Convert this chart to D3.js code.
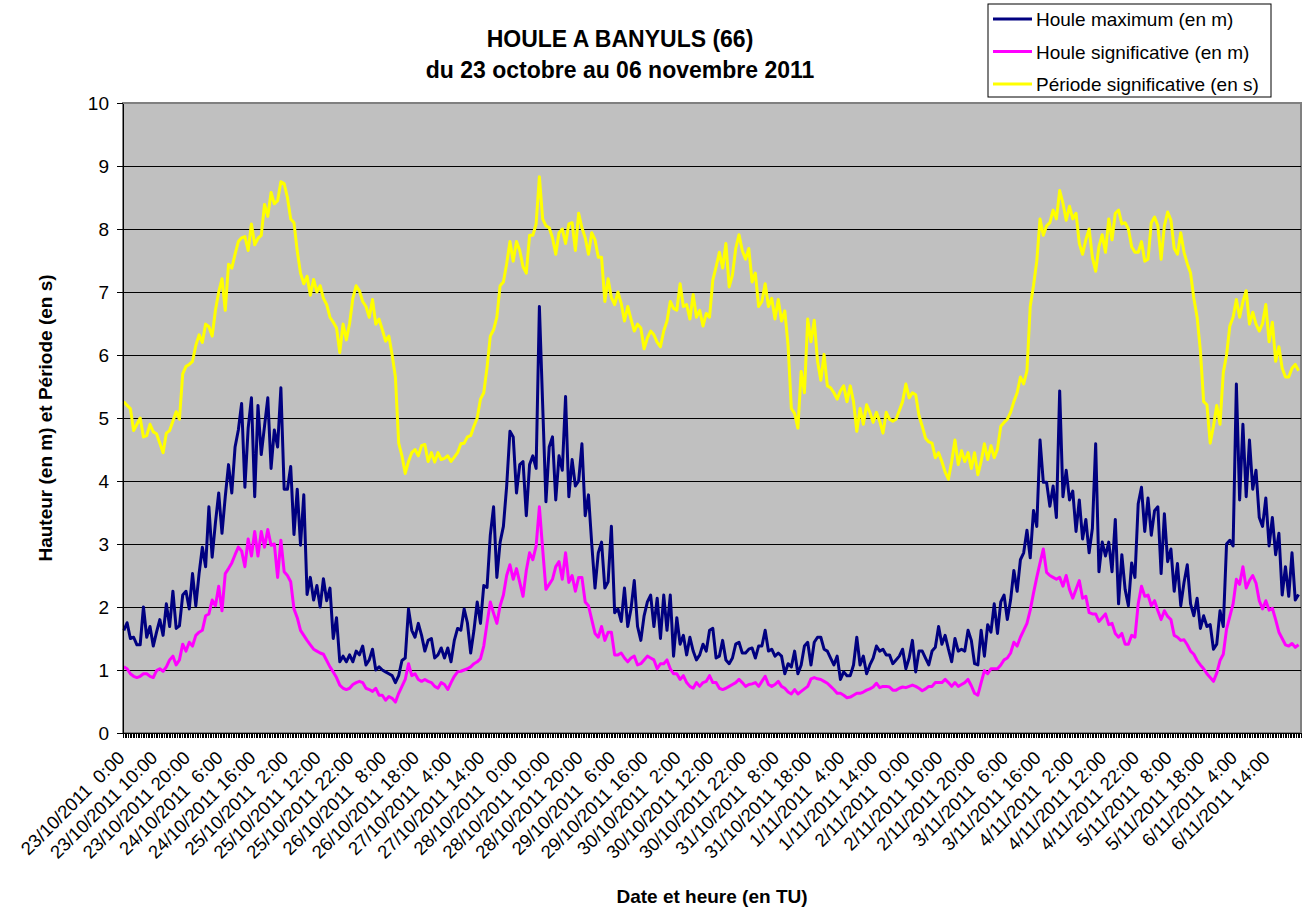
<!DOCTYPE html>
<html>
<head>
<meta charset="utf-8">
<title>Houle a Banyuls</title>
<script src="https://cdn.jsdelivr.net/npm/d3@7"></script>
<style>
  body { margin: 0; background: #fff; }
  svg { display: block; font-family: "Liberation Sans", Arial, sans-serif; }
  .axis path, .axis line { stroke: #000; shape-rendering: crispEdges; }
  .axis text { font-size: 19px; fill: #000; }
  .grid line { stroke: #000; shape-rendering: crispEdges; }
  .grid path { display: none; }
  .serie { fill: none; stroke-width: 3; stroke-linejoin: round; }
  .xlabel { font-size: 18.5px; white-space: pre; }
  .title { font-size: 23px; font-weight: bold; }
  .atitle { font-size: 19px; font-weight: bold; }
  .legend text { font-size: 19px; }
</style>
</head>
<body>
<svg id="chart" width="1303" height="912"></svg>
<script>
'use strict';

// hourly readings from 23/10/2011 0:00 to 6/11/2011 23:00 (index = hour)
let houleMax = [
  1.63,1.75,1.5,1.52,1.4,1.4,2.0,1.52,1.69,1.38,
  1.6,1.8,1.55,2.05,1.69,2.25,1.66,1.7,2.19,2.25,
  1.97,2.53,2.02,2.53,2.95,2.64,3.59,2.79,3.34,3.81,
  3.17,3.75,4.26,3.81,4.54,4.81,5.23,3.9,4.84,5.32,
  3.75,5.2,4.42,4.87,5.32,4.2,4.81,4.54,5.48,3.87,
  3.87,4.23,3.15,3.87,2.98,3.78,2.2,2.47,2.11,2.34,
  2.0,2.45,2.1,2.3,1.5,1.83,1.13,1.22,1.13,1.24,
  1.13,1.3,1.24,1.38,1.08,1.16,1.33,1.0,1.05,1.0,
  0.97,0.94,0.91,0.8,0.91,1.15,1.19,1.97,1.63,1.52,
  1.74,1.55,1.3,1.47,1.5,1.19,1.24,1.35,1.19,1.35,
  1.13,1.47,1.66,1.63,1.97,1.75,1.27,1.63,2.08,1.74,
  2.34,2.31,3.14,3.59,2.47,3.03,3.28,3.92,4.79,4.7,
  3.81,4.26,4.31,3.45,4.26,4.4,4.2,6.77,5.21,3.67,
  4.54,4.7,3.7,4.4,4.17,5.34,3.75,4.34,3.92,4.0,
  4.59,3.45,3.78,3.0,2.3,2.86,3.03,2.3,2.4,3.28,
  1.91,1.97,1.77,2.3,1.69,1.97,2.42,1.69,1.47,1.86,
  2.08,2.19,1.69,2.14,1.5,2.19,1.63,2.19,1.22,1.83,
  1.41,1.55,1.24,1.52,1.3,1.16,1.24,1.41,1.3,1.63,
  1.66,1.19,1.22,1.47,1.16,1.1,1.19,1.41,1.44,1.27,
  1.27,1.33,1.35,1.19,1.38,1.38,1.63,1.3,1.33,1.22,
  1.27,1.22,0.94,1.1,1.05,1.3,0.94,1.08,1.38,1.44,
  1.08,1.44,1.52,1.52,1.33,1.3,1.19,1.08,1.22,0.85,
  0.97,0.91,0.91,1.08,1.52,1.08,1.22,0.94,1.08,1.19,
  1.38,1.3,1.33,1.24,1.24,1.1,1.16,1.22,1.33,1.02,
  1.19,1.47,0.97,1.3,1.3,1.19,1.08,1.3,1.36,1.69,
  1.41,1.55,1.33,1.13,1.5,1.3,1.33,1.3,1.63,1.47,
  1.1,1.08,1.63,1.22,1.72,1.6,2.05,1.58,2.08,2.19,
  1.8,2.11,2.58,2.25,2.75,2.86,3.22,2.78,3.53,3.28,
  4.65,3.98,3.98,3.6,3.92,3.42,5.43,3.75,4.17,3.7,
  3.84,3.2,3.7,3.08,3.39,2.86,3.25,4.59,2.56,3.03,
  2.81,3.03,2.56,3.39,2.05,2.83,2.28,2.02,2.7,2.47,
  3.64,3.9,3.2,3.73,3.14,3.53,3.59,2.53,3.48,2.72,
  2.92,2.25,2.69,2.02,2.39,2.67,2.05,1.86,2.14,1.66,
  1.86,1.69,1.72,1.33,1.41,1.94,1.69,3.0,3.06,2.97,
  5.54,3.7,4.9,3.75,4.65,3.87,4.17,3.42,3.28,3.73,
  2.97,3.42,2.83,3.17,2.19,2.64,2.17,2.86,2.11,2.2
];

let houleSig = [
  1.05,1.02,0.94,0.9,0.88,0.9,0.94,0.94,0.9,0.88,
  0.99,1.02,0.98,1.05,1.16,1.22,1.08,1.16,1.41,1.3,
  1.44,1.38,1.55,1.6,1.63,1.86,1.89,2.11,2.02,2.33,
  1.94,2.53,2.61,2.7,2.83,2.95,2.89,2.64,3.08,2.81,
  3.2,2.81,3.2,2.95,3.23,2.98,3.0,2.47,3.06,2.56,
  2.5,2.4,1.97,1.83,1.63,1.55,1.47,1.4,1.33,1.3,
  1.27,1.25,1.15,1.05,0.97,0.88,0.76,0.71,0.69,0.71,
  0.77,0.8,0.82,0.8,0.71,0.69,0.66,0.71,0.6,0.6,
  0.52,0.58,0.55,0.49,0.63,0.74,0.85,1.1,0.91,0.94,
  0.85,0.82,0.85,0.82,0.8,0.74,0.71,0.8,0.77,0.69,
  0.8,0.9,0.97,0.98,1.0,1.02,1.05,1.1,1.13,1.18,
  1.38,1.74,2.08,1.9,1.74,2.02,2.19,2.5,2.67,2.44,
  2.61,2.39,2.17,2.58,2.86,2.75,2.97,3.59,2.92,2.28,
  2.36,2.44,2.64,2.72,2.44,2.86,2.39,2.5,2.25,2.47,
  2.47,2.08,2.02,1.8,1.58,1.52,1.69,1.47,1.6,1.6,
  1.24,1.24,1.27,1.19,1.13,1.19,1.22,1.08,1.1,1.16,
  1.22,1.19,1.16,1.02,1.1,1.1,1.16,1.02,0.94,0.94,
  0.85,0.91,0.8,0.74,0.71,0.8,0.74,0.8,0.82,0.91,
  0.8,0.8,0.71,0.69,0.71,0.74,0.77,0.8,0.85,0.8,
  0.74,0.77,0.78,0.8,0.74,0.82,0.9,0.77,0.74,0.77,
  0.82,0.74,0.71,0.65,0.62,0.69,0.62,0.66,0.7,0.74,
  0.86,0.88,0.86,0.85,0.82,0.79,0.74,0.69,0.63,0.63,
  0.6,0.56,0.57,0.6,0.63,0.63,0.65,0.68,0.7,0.73,
  0.79,0.72,0.74,0.74,0.73,0.68,0.68,0.71,0.73,0.72,
  0.74,0.76,0.74,0.71,0.67,0.7,0.74,0.74,0.8,0.8,
  0.8,0.85,0.8,0.74,0.8,0.74,0.77,0.8,0.85,0.75,
  0.63,0.6,0.8,0.99,0.94,1.02,1.02,1.02,1.08,1.16,
  1.19,1.27,1.44,1.38,1.52,1.63,1.74,1.95,2.22,2.47,
  2.7,2.92,2.55,2.5,2.47,2.44,2.47,2.33,2.5,2.28,
  2.14,2.28,2.42,2.14,2.17,1.91,1.89,1.89,1.77,1.83,
  1.89,1.72,1.74,1.58,1.52,1.58,1.41,1.41,1.55,1.52,
  2.05,2.33,2.17,2.19,2.02,2.1,1.94,1.8,1.94,1.85,
  1.8,1.55,1.52,1.47,1.48,1.4,1.3,1.25,1.15,1.08,
  1.02,0.94,0.88,0.82,0.95,1.15,1.25,1.65,1.85,2.05,
  2.44,2.36,2.64,2.3,2.42,2.5,2.38,2.1,1.97,2.1,
  1.95,1.98,1.8,1.6,1.5,1.4,1.38,1.42,1.36,1.4
];

let periodeSig = [
  5.26,5.2,5.15,4.8,4.9,5.0,4.7,4.72,4.9,4.78,
  4.75,4.6,4.45,4.76,4.8,4.95,5.1,4.98,5.7,5.82,
  5.85,5.9,6.15,6.32,6.2,6.49,6.45,6.3,6.71,7.0,
  7.21,6.71,7.44,7.38,7.6,7.8,7.86,7.88,7.66,8.08,
  7.75,7.85,7.9,8.39,8.2,8.58,8.4,8.45,8.75,8.72,
  8.5,8.16,8.1,7.65,7.3,7.13,7.25,6.95,7.2,7.0,
  7.1,6.9,6.8,6.6,6.52,6.43,6.04,6.49,6.24,6.5,
  6.9,7.1,7.02,6.85,6.77,6.6,6.88,6.49,6.57,6.4,
  6.22,6.3,6.0,5.65,4.6,4.4,4.12,4.31,4.45,4.5,
  4.4,4.56,4.58,4.31,4.45,4.3,4.45,4.34,4.36,4.4,
  4.31,4.38,4.45,4.59,4.6,4.7,4.72,4.87,5.0,5.3,
  5.4,5.8,6.3,6.4,6.6,7.1,7.16,7.45,7.8,7.49,
  7.8,7.66,7.4,7.3,7.9,7.9,8.08,8.83,8.16,8.05,
  8.02,7.86,7.6,7.94,8.0,7.77,8.08,8.1,7.66,8.25,
  8.02,7.86,7.6,7.94,7.83,7.55,7.55,6.85,7.21,6.91,
  6.8,7.0,6.82,6.54,6.77,6.57,6.38,6.49,6.43,6.1,
  6.27,6.38,6.32,6.2,6.13,6.38,6.54,6.85,6.74,6.71,
  7.13,6.77,6.8,6.57,6.96,6.6,6.71,6.46,6.66,6.6,
  7.19,7.4,7.63,7.38,7.77,7.08,7.27,7.69,7.91,7.66,
  7.52,7.69,7.16,7.3,6.77,6.85,7.13,6.77,6.9,6.57,
  6.88,6.54,6.7,6.15,5.15,5.07,4.84,5.74,5.4,6.57,
  6.21,6.55,5.9,5.6,6.01,5.51,5.48,5.4,5.3,5.43,
  5.51,5.26,5.51,5.26,4.79,5.15,4.9,5.21,5.09,4.93,
  5.09,4.95,4.76,5.09,4.98,4.95,4.98,5.12,5.26,5.54,
  5.32,5.4,5.37,5.04,4.87,4.68,4.62,4.6,4.37,4.45,
  4.31,4.14,4.03,4.31,4.65,4.26,4.48,4.31,4.45,4.2,
  4.45,4.1,4.31,4.59,4.34,4.56,4.37,4.51,4.87,4.93,
  4.98,5.09,5.26,5.4,5.65,5.54,5.75,6.77,7.1,7.49,
  8.16,7.9,8.05,8.1,8.3,8.16,8.61,8.41,8.14,8.36,
  8.16,8.25,7.77,7.6,7.83,8.0,7.55,7.33,7.72,7.91,
  7.63,8.16,7.83,8.25,8.3,8.08,8.1,8.0,7.72,7.63,
  7.63,7.8,7.49,7.52,8.1,8.19,8.05,7.52,8.05,8.27,
  8.14,7.69,7.6,7.94,7.63,7.45,7.3,6.9,6.6,6.07,
  5.26,5.21,4.6,4.87,5.2,4.9,5.72,6.0,6.46,6.6,
  6.88,6.6,6.85,7.02,6.49,6.68,6.49,6.38,6.5,6.8,
  6.21,6.52,5.9,6.13,5.79,5.65,5.65,5.79,5.85,5.75
];

let seriesNames  = ["Houle maximum (en m)", "Houle significative (en m)", "Période significative (en s)"];
let seriesColors = ["#000080", "#ff00ff", "#ffff00"];

// one label every 10 hours (20 half-hour categories)
let xLabels = [
  "23/10/2011  0:00", "23/10/2011 10:00", "23/10/2011 20:00", "24/10/2011  6:00",
  "24/10/2011 16:00", "25/10/2011  2:00", "25/10/2011 12:00", "25/10/2011 22:00",
  "26/10/2011  8:00", "26/10/2011 18:00", "27/10/2011  4:00", "27/10/2011 14:00",
  "28/10/2011  0:00", "28/10/2011 10:00", "28/10/2011 20:00", "29/10/2011  6:00",
  "29/10/2011 16:00", "30/10/2011  2:00", "30/10/2011 12:00", "30/10/2011 22:00",
  "31/10/2011  8:00", "31/10/2011 18:00", "1/11/2011  4:00", "1/11/2011 14:00",
  "2/11/2011  0:00", "2/11/2011 10:00", "2/11/2011 20:00", "3/11/2011  6:00",
  "3/11/2011 16:00", "4/11/2011  2:00", "4/11/2011 12:00", "4/11/2011 22:00",
  "5/11/2011  8:00", "5/11/2011 18:00", "6/11/2011  4:00", "6/11/2011 14:00"
];
let yTicks = [0, 1, 2, 3, 4, 5, 6, 7, 8, 9, 10];

let svg = d3.select("#chart"),
    plot = {left: 123, top: 103, right: 1301, bottom: 733},
    nSlots = 720,   // half-hour categories on the time axis
    labelStep = 20,
    x = d3.scaleLinear().domain([0, nSlots]).range([plot.left, plot.right]),
    y = d3.scaleLinear().domain([0, 10]).range([plot.bottom, plot.top]);

// plot area
svg.append("rect")
    .attr("x", plot.left)
    .attr("y", plot.top)
    .attr("width", plot.right - plot.left)
    .attr("height", plot.bottom - plot.top)
    .style("fill", "#c0c0c0")
    .style("stroke", "#808080")
    .style("stroke-width", 2);

svg.append("g")
    .attr("class", "grid")
    .attr("transform", "translate(" + plot.left + ",0)")
    .call(d3.axisLeft(y).tickValues(yTicks.slice(1, -1))
      .tickSize(-(plot.right - plot.left)).tickFormat(""));

// series, hour i sits in half-hour slot 2*i
let line = d3.line()
    .x(function(d, i) { return x(2 * i + 0.5); })
    .y(function(d) { return y(d); });

[houleMax, houleSig, periodeSig].forEach(function(s, k) {
  svg.append("path")
      .attr("class", "serie")
      .style("stroke", seriesColors[k])
      .attr("d", line(s));
});

// axes
svg.append("g")
    .attr("class", "axis")
    .attr("transform", "translate(" + plot.left + ",0)")
    .call(d3.axisLeft(y).tickValues(yTicks).tickSize(6).tickSizeOuter(0).tickPadding(8));

svg.append("g")
    .attr("class", "axis")
    .attr("transform", "translate(0," + plot.bottom + ")")
    .call(d3.axisBottom(x).tickValues(d3.range(0, nSlots + 1))
      .tickSize(5).tickSizeOuter(0).tickFormat(""));

svg.append("g")
  .selectAll("text")
  .data(xLabels)
  .enter().append("text")
    .attr("class", "xlabel")
    .attr("text-anchor", "end")
    .attr("transform", function(d, i) {
      return "translate(" + (x(i * labelStep + 0.5) + 2) + "," + (plot.bottom + 26) + ") rotate(-45)";
    })
    .text(function(d) { return d; });

// titles
svg.append("text")
    .attr("class", "title")
    .attr("x", 620).attr("y", 47)
    .attr("text-anchor", "middle")
    .text("HOULE A BANYULS (66)");
svg.append("text")
    .attr("class", "title")
    .attr("x", 620).attr("y", 78)
    .attr("text-anchor", "middle")
    .text("du 23 octobre au 06 novembre 2011");

svg.append("text")
    .attr("class", "atitle")
    .attr("text-anchor", "middle")
    .attr("transform", "translate(52," + y(5) + ") rotate(-90)")
    .text("Hauteur (en m) et Période (en s)");

svg.append("text")
    .attr("class", "atitle")
    .attr("text-anchor", "middle")
    .attr("x", (plot.left + plot.right) / 2)
    .attr("y", 903)
    .text("Date et heure (en TU)");

// legend
let legend = svg.append("g")
    .attr("class", "legend")
    .attr("transform", "translate(988,4)");
legend.append("rect")
    .attr("width", 283)
    .attr("height", 93)
    .style("fill", "#fff")
    .style("stroke", "#000");
seriesNames.forEach(function(d, i) {
  let row = 15 + i * 32.5;
  legend.append("line")
      .attr("x1", 5).attr("x2", 44)
      .attr("y1", row).attr("y2", row)
      .style("stroke", seriesColors[i])
      .style("stroke-width", 3);
  legend.append("text")
      .attr("x", 48)
      .attr("y", row + 7)
      .text(d);
});
</script>
</body>
</html>
